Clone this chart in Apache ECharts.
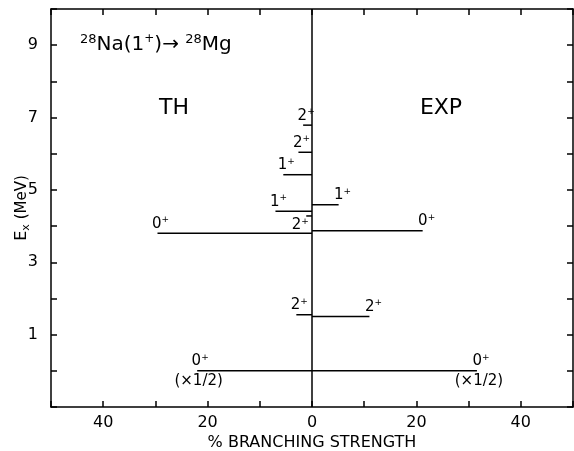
<!DOCTYPE html>
<html><head><meta charset="utf-8">
<script src="https://cdn.jsdelivr.net/npm/echarts@6/dist/echarts.min.js"></script>
<style>html,body{margin:0;padding:0;background:#fff}#c{width:574px;height:451px}</style>
</head><body><div id="c"></div>
<script>
// ---- data ----
const xLabelValues = [-40, -20, 0, 20, 40];
const yLabelValues = [1, 3, 5, 7, 9];
const thEnergy   = [0.00, 1.55, 3.80, 4.28, 4.41, 5.42, 6.04, 6.79];
const thStrength = [22.0, 3.0, 29.6, 1.1, 7.0, 5.5, 2.6, 1.7];
const thSpin     = ['0', '2', '0', '2', '1', '1', '2', '2'];
const thNote     = ['(×1/2)', '', '', '', '', '', '', ''];
const expEnergy   = [0.00, 1.50, 3.87, 4.59];
const expStrength = [31.6, 11.0, 21.2, 5.1];
const expSpin     = ['0', '2', '0', '1'];
const expNote     = ['(×1/2)', '', '', ''];
const panelNames = ['TH', 'EXP'];
const xAxisTitle = '% BRANCHING STRENGTH';

// ---- rendering ----
const FF = 'DejaVu Sans';
const RICH = {
  n: { fontSize: 15, fontFamily: FF, fill: '#000', lineHeight: 17 },
  s: { fontSize: 9, fontFamily: FF, fill: '#000', lineHeight: 9, verticalAlign: 'top' }
};
function makeRender(spin, note, belowIdx, dx) {
  return function (params, api) {
    const i = params.dataIndex;
    const xv = api.value(0), yv = api.value(1);
    const a = api.coord([0, yv]), b = api.coord([xv, yv]);
    const ch = [{ type: 'line', shape: { x1: a[0], y1: a[1], x2: b[0], y2: b[1] },
      style: { stroke: '#000', lineWidth: 1.5 } }];
    const below = belowIdx.indexOf(i) >= 0;
    ch.push({ type: 'text', x: below ? b[0] - 6 : b[0] + dx, y: below ? b[1] + 1 : b[1] - 1,
      style: { text: '{n|' + spin[i] + '}{s|+}', rich: RICH, align: 'center',
        verticalAlign: below ? 'top' : 'bottom' } });
    if (note[i]) ch.push({ type: 'text', x: b[0] + dx / 2, y: b[1] + 3,
      style: { text: note[i], fill: '#000', font: '15px ' + FF, align: 'center', verticalAlign: 'top' } });
    return { type: 'group', children: ch };
  };
}

const chart = echarts.init(document.getElementById('c'), null, { renderer: 'canvas' });
const axisLine = { show: true, onZero: false, lineStyle: { color: '#000', width: 1.5 } };
const tick = { show: true, inside: true, length: 6, lineStyle: { color: '#000', width: 1.5 } };
const option = {
  backgroundColor: '#fff',
  animation: false,
  grid: { left: 51, right: 1, top: 9, bottom: 44, containLabel: false, outerBoundsMode: 'none' },
  xAxis: [
    { type: 'value', min: -50, max: 50, interval: 10, position: 'bottom',
      axisLine, axisTick: tick, splitLine: { show: false },
      axisLabel: { margin: 8, color: '#000', fontSize: 16, fontFamily: FF,
        formatter: v => xLabelValues.indexOf(v) >= 0 ? String(Math.abs(v)) : '' },
      name: xAxisTitle, nameLocation: 'middle', nameGap: 28, nameMoveOverlap: false,
      nameTextStyle: { color: '#000', fontSize: 16, fontFamily: FF } },
    { type: 'value', min: -50, max: 50, interval: 10, position: 'top',
      axisLine, axisTick: tick, axisLabel: { show: false }, splitLine: { show: false } }
  ],
  yAxis: [
    { type: 'value', min: -1, max: 10, interval: 1, position: 'left',
      axisLine, axisTick: tick, splitLine: { show: false },
      axisLabel: { margin: 13, color: '#000', fontSize: 16, fontFamily: FF,
        formatter: v => yLabelValues.indexOf(v) >= 0 ? String(v) : '' },
      name: '{e|E}{x|x}{m| (MeV)}', nameLocation: 'middle', nameGap: 19, nameRotate: 90,
      nameMoveOverlap: false,
      nameTextStyle: { color: '#000', rich: {
        e: { fontSize: 16, fontFamily: FF, color: '#000', lineHeight: 20 },
        x: { fontSize: 11, fontFamily: FF, color: '#000', lineHeight: 11, verticalAlign: 'bottom' },
        m: { fontSize: 15, fontFamily: FF, color: '#000', lineHeight: 20 } } } },
    { type: 'value', min: -1, max: 10, interval: 1, position: 'right',
      axisLine, axisTick: tick, axisLabel: { show: false }, splitLine: { show: false } }
  ],
  series: [
    { type: 'custom', name: panelNames[0], xAxisIndex: 0, yAxisIndex: 0,
      renderItem: makeRender(thSpin, thNote, [3], 3),
      data: thEnergy.map((e, i) => [-thStrength[i], e]),
      encode: { x: 0, y: 1 }, clip: false,
      markLine: { silent: true, symbol: 'none', label: { show: false },
        lineStyle: { color: '#000', type: 'solid', width: 1.5 }, data: [{ xAxis: 0 }] } },
    { type: 'custom', name: panelNames[1], xAxisIndex: 0, yAxisIndex: 0,
      renderItem: makeRender(expSpin, expNote, [], 4),
      data: expEnergy.map((e, i) => [expStrength[i], e]),
      encode: { x: 0, y: 1 }, clip: false }
  ],
  graphic: [
    { type: 'text', left: 80, top: 33, style: {
        text: '{p|28}{m|Na(1}{q|+}{m|)→ }{p|28}{m|Mg}',
        rich: {
          m: { fontSize: 20, fontFamily: FF, fill: '#000', lineHeight: 24 },
          p: { fontSize: 13, fontFamily: FF, fill: '#000', lineHeight: 13, verticalAlign: 'top' },
          q: { fontSize: 12, fontFamily: FF, fill: '#000', lineHeight: 15, verticalAlign: 'top' } } } },
    { type: 'text', x: 174, y: 108, style: { text: panelNames[0], fill: '#000', font: '22px ' + FF,
        align: 'center', verticalAlign: 'middle' } },
    { type: 'text', x: 441, y: 108, style: { text: panelNames[1], fill: '#000', font: '22px ' + FF,
        align: 'center', verticalAlign: 'middle' } }
  ]
};
chart.setOption(option);
</script></body></html>
